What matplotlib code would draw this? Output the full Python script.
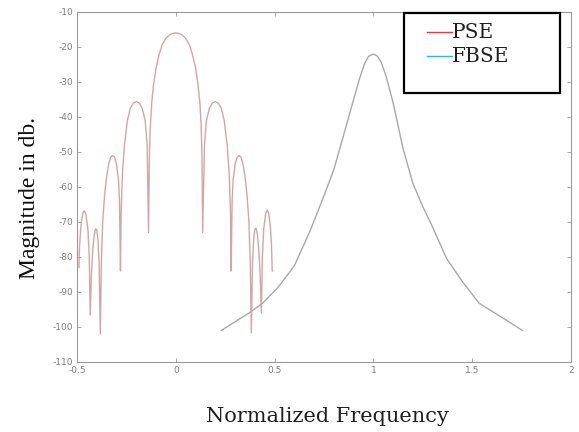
import matplotlib
matplotlib.use("Agg")
import matplotlib.pyplot as plt
from matplotlib.lines import Line2D
from matplotlib.patches import Rectangle

# PSE spectrum (Normalized frequency, dB)
pse_x = [-0.490, -0.488, -0.484, -0.478, -0.470, -0.463, -0.455, -0.445, -0.438, -0.433,
         -0.427, -0.420, -0.413, -0.406, -0.400, -0.394, -0.388, -0.382,
         -0.377, -0.370, -0.360, -0.350, -0.340, -0.330, -0.320, -0.310, -0.300, -0.290, -0.285, -0.280,
         -0.277, -0.270, -0.260, -0.245, -0.230, -0.215, -0.200, -0.185, -0.170, -0.155, -0.145, -0.138,
         -0.134, -0.130, -0.122, -0.112, -0.100, -0.085, -0.070, -0.050, -0.030, -0.015, 0.000,
         0.015, 0.030, 0.050, 0.070, 0.085, 0.100, 0.112, 0.122, 0.128, 0.132,
         0.136, 0.145, 0.155, 0.170, 0.185, 0.200, 0.215, 0.230, 0.245, 0.260, 0.270, 0.277,
         0.280, 0.285, 0.290, 0.300, 0.310, 0.320, 0.330, 0.340, 0.350, 0.360, 0.370, 0.377,
         0.382, 0.388, 0.394, 0.400, 0.406, 0.413, 0.420, 0.427, 0.433,
         0.438, 0.445, 0.455, 0.463, 0.470, 0.478, 0.484, 0.488, 0.490]
pse_y = [-83.0, -78.0, -74.0, -70.0, -67.3, -66.8, -67.8, -72.0, -80.0, -96.6,
         -85.0, -78.0, -73.8, -72.0, -72.2, -75.0, -82.0, -102.0,
         -82.0, -70.0, -62.0, -57.0, -53.5, -51.5, -51.0, -51.5, -53.5, -58.0, -64.0, -84.0,
         -68.0, -56.0, -48.0, -41.0, -37.5, -36.0, -35.6, -36.0, -37.5, -41.0, -48.0, -73.0,
         -52.0, -44.0, -36.0, -30.5, -26.0, -22.3, -19.5, -17.5, -16.5, -16.1, -16.0,
         -16.1, -16.5, -17.5, -19.5, -22.3, -26.0, -30.5, -36.0, -42.0, -50.0,
         -73.0, -48.0, -41.0, -37.5, -36.0, -35.6, -36.0, -37.5, -41.0, -48.0, -56.0, -68.0,
         -84.0, -64.0, -58.0, -53.5, -51.5, -51.0, -51.5, -53.5, -57.0, -62.0, -70.0, -82.0,
         -101.7, -82.0, -75.0, -72.0, -71.8, -73.5, -78.0, -85.0, -96.0,
         -80.0, -72.0, -67.5, -66.6, -67.5, -71.0, -76.0, -84.0, -84.0]

# FBSE spectrum
fbse_x = [0.23, 0.30, 0.37, 0.44, 0.52, 0.60, 0.68, 0.75, 0.80, 0.85, 0.90, 0.93, 0.955, 0.975, 1.00,
          1.02, 1.04, 1.065, 1.10, 1.15, 1.20, 1.25, 1.30, 1.37, 1.45, 1.535, 1.60, 1.68, 1.754]
fbse_y = [-101.0, -98.5, -96.0, -93.2, -88.5, -82.5, -72.5, -62.5, -55.0, -45.0, -35.0, -29.0, -24.8, -22.7, -22.0,
          -22.6, -24.4, -28.5, -36.0, -49.0, -59.0, -65.6, -71.5, -80.4, -87.0, -93.2, -95.5, -98.3, -101.0]

xticks = [-0.5, 0, 0.5, 1, 1.5, 2]
xticklabels = ["-0.5", "0", "0.5", "1", "1.5", "2"]
yticks = [-110, -100, -90, -80, -70, -60, -50, -40, -30, -20, -10]
yticklabels = ["-110", "-100", "-90", "-80", "-70", "-60", "-50", "-40", "-30", "-20", "-10"]
legend_labels = ["PSE", "FBSE"]
legend_colors = ["#d8404c", "#30b8d8"]

fig = plt.figure(figsize=(5.79, 4.32), dpi=100)
ax = fig.add_axes([77 / 579, 1 - 362 / 432, (571 - 77) / 579, (362 - 12) / 432])

ax.plot(pse_x, pse_y, color="#d2a6a9", lw=1.0)
ax.plot(fbse_x, fbse_y, color="#a9a9a9", lw=1.0)

ax.set_xlim(-0.5, 2)
ax.set_ylim(-110, -10)
ax.set_xticks(xticks)
ax.set_xticklabels(xticklabels)
ax.set_yticks(yticks)
ax.set_yticklabels(yticklabels)
ax.tick_params(direction="in", length=3, width=0.6, colors="#9a9a9a", labelcolor="#808080",
               labelsize=6.5, top=True, right=True, pad=3)
for s in ax.spines.values():
    s.set_color("#9a9a9a")
    s.set_linewidth(0.8)


def fx(v):
    return v / 579


def fy(v):
    return 1 - v / 432


# legend box
fig.patches.append(Rectangle((fx(404), fy(93)), fx(560) - fx(404), fy(13) - fy(93),
                             transform=fig.transFigure, fill=True, facecolor="white",
                             edgecolor="black", lw=1.6, zorder=5))
for i, (lab, col) in enumerate(zip(legend_labels, legend_colors)):
    yy = 32 + i * 24
    fig.lines.append(Line2D([fx(427), fx(452)], [fy(yy), fy(yy)], transform=fig.transFigure,
                            color=col, lw=1.0, zorder=6))
    fig.text(fx(452), fy(yy), lab, fontsize=14.5, family="DejaVu Serif", va="center", ha="left",
             color="#202020", zorder=6)

fig.text(fx(30), fy(198), "Magnitude in db.", rotation=90, fontsize=17,
         family="Liberation Serif", va="center", ha="center", color="#101010")
fig.text(fx(327), fy(417), "Normalized Frequency", fontsize=15, family="DejaVu Serif",
         va="center", ha="center", color="#202020")

fig.savefig("out.png", dpi=100)
